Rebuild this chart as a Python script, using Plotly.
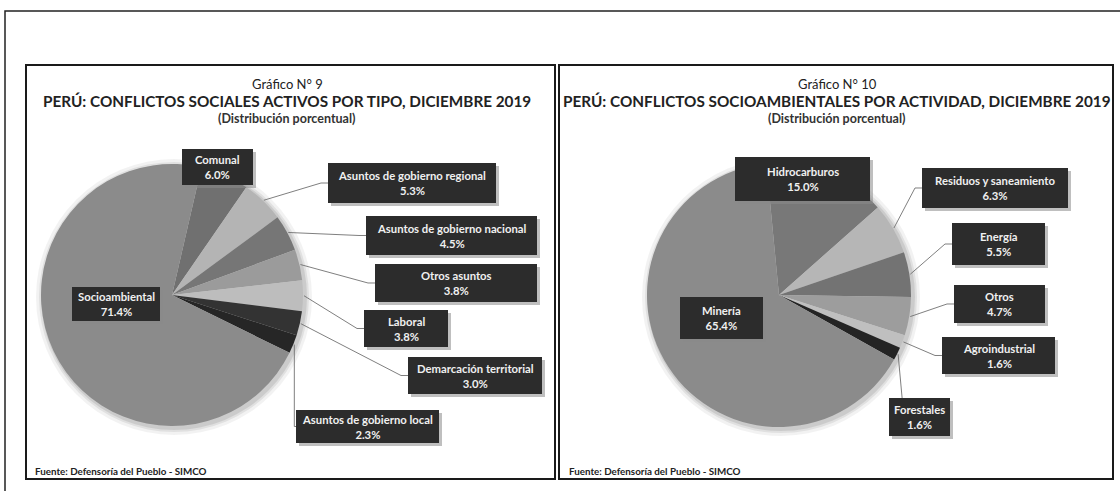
import math
import plotly.graph_objects as go

W, H = 1120, 491

# ---------------- data ----------------
tipo_labels = ["Comunal", "Asuntos de gobierno regional", "Asuntos de gobierno nacional",
               "Otros asuntos", "Laboral", "Demarcación territorial",
               "Asuntos de gobierno local", "Socioambiental"]
tipo_values = [6.0, 5.3, 4.5, 3.8, 3.8, 3.0, 2.3, 71.4]

act_labels = ["Hidrocarburos", "Residuos y saneamiento", "Energía", "Otros",
              "Agroindustrial", "Forestales", "Minería"]
act_values = [15.0, 6.3, 5.5, 4.7, 1.6, 1.6, 65.4]

# ---------------- styling ----------------
tipo_colors = ["#707070", "#b4b4b4", "#767676", "#9b9b9b", "#bdbdbd", "#333333", "#262626", "#8b8b8b"]
act_colors = ["#787878", "#b6b6b6", "#737373", "#9d9d9d", "#bfbfbf", "#242424", "#8b8b8b"]

FONT = "Lato, 'Open Sans', sans-serif"

# pie geometry (pixels): centre x, centre y, radius, start rotation
PIE1 = dict(cx=172, cy=295, r=131, rot=13)
PIE2 = dict(cx=779, cy=295, r=132, rot=-5.5)

# label boxes (x0, x1, y0, y1) in px and leader style
tipo_boxes = {
    "Comunal": ((182, 253, 149, 185), None),
    "Asuntos de gobierno regional": ((328, 496, 163, 203), "elbow"),
    "Asuntos de gobierno nacional": ((366, 537, 216, 255), "elbow"),
    "Otros asuntos": ((375, 537, 264, 302), "elbow"),
    "Laboral": ((364, 448, 310, 347), "elbow"),
    "Demarcación territorial": ((408, 542, 357, 394), "elbow"),
    "Asuntos de gobierno local": ((296, 439, 410, 443), "vert"),
    "Socioambiental": ((72, 160, 287, 321), None),
}
act_boxes = {
    "Hidrocarburos": ((735, 870, 157, 201), None),
    "Residuos y saneamiento": ((922, 1068, 168, 208), "elbow"),
    "Energía": ((952, 1045, 223, 265), "elbow"),
    "Otros": ((954, 1045, 285, 323), "elbow"),
    "Agroindustrial": ((942, 1055, 337, 374), "elbow"),
    "Forestales": ((889, 950, 398, 436), "down"),
    "Minería": ((680, 763, 297, 339), None),
}


def px(x):
    return x / W


def py(y):
    return 1 - y / H


fig = go.Figure()
shapes = []
annotations = []


def add_pie(labels, values, colors, geo, boxes):
    cx, cy, r, rot = geo["cx"], geo["cy"], geo["r"], geo["rot"]
    fig.add_trace(go.Pie(
        labels=labels, values=values, sort=False, direction="clockwise",
        rotation=rot, textinfo="none", hoverinfo="label+percent",
        marker=dict(colors=colors, line=dict(width=0)),
        domain=dict(x=[px(cx - r), px(cx + r)], y=[py(cy + r), py(cy - r)]),
        showlegend=False,
    ))
    # soft shadow halo
    for d, op in [(7, 0.05), (4, 0.07), (2, 0.09)]:
        shapes.append(dict(type="circle", xref="paper", yref="paper",
                           x0=px(cx - r - d + 2), x1=px(cx + r + d + 2),
                           y0=py(cy + r + d + 2), y1=py(cy - r - d + 2),
                           fillcolor="#000000", opacity=op, line=dict(width=0),
                           layer="below"))
    total = sum(values)
    cum = 0.0
    for lab, v in zip(labels, values):
        mid = math.radians(rot + 360.0 * (cum + v / 2) / total)
        cum += v
        (x0, x1, y0, y1), mode = boxes[lab]
        ym = (y0 + y1) / 2
        if mode is not None:
            sx = cx + (r + 1) * math.sin(mid)
            sy = cy - (r + 1) * math.cos(mid)
            if mode == "elbow":
                pts = [(sx, sy), (x0 - 7, ym), (x0, ym)]
            elif mode == "vert":
                pts = [(sx, sy), (sx, ym), (x0, ym)]
            else:
                pts = [(sx, sy), (sx + 4, y0)]
            path = "M " + " L ".join(f"{px(a):.5f},{py(b):.5f}" for a, b in pts)
            shapes.append(dict(type="path", xref="paper", yref="paper", path=path,
                               line=dict(color="#707070", width=0.9), layer="above"))
        # box shadow + box
        shapes.append(dict(type="rect", xref="paper", yref="paper",
                           x0=px(x0 + 3), x1=px(x1 + 3), y0=py(y1 + 3), y1=py(y0 + 3),
                           fillcolor="#8a8a8a", opacity=0.55, line=dict(width=0), layer="above"))
        shapes.append(dict(type="rect", xref="paper", yref="paper",
                           x0=px(x0), x1=px(x1), y0=py(y1), y1=py(y0),
                           fillcolor="#2c2c2c", line=dict(width=0), layer="above"))
        annotations.append(dict(
            xref="paper", yref="paper", x=px((x0 + x1) / 2), y=py(ym),
            xanchor="center", yanchor="middle", showarrow=False,
            text=f"<b>{lab}<br>{v:.1f}%</b>", align="center",
            font=dict(family=FONT, size=11.3, color="#f0f0f0"),
        ))


add_pie(tipo_labels, tipo_values, tipo_colors, PIE1, tipo_boxes)
add_pie(act_labels, act_values, act_colors, PIE2, act_boxes)

# frames
shapes.append(dict(type="rect", xref="paper", yref="paper", x0=px(5), x1=px(1130),
                   y0=py(500), y1=py(11), line=dict(color="#222222", width=1.5), layer="above"))
for (a, b) in [(26, 555), (559, 1113)]:
    shapes.append(dict(type="rect", xref="paper", yref="paper", x0=px(a), x1=px(b),
                       y0=py(479), y1=py(65), line=dict(color="#1a1a1a", width=2), layer="above"))

# titles
titles = [
    (287, "Gráfico N° 9", "PERÚ: CONFLICTOS SOCIALES ACTIVOS POR TIPO, DICIEMBRE 2019"),
    (837, "Gráfico N° 10", "PERÚ: CONFLICTOS SOCIOAMBIENTALES POR ACTIVIDAD, DICIEMBRE 2019"),
]
for cxp, g, t in titles:
    annotations.append(dict(xref="paper", yref="paper", x=px(cxp), y=py(84), text=g,
                            showarrow=False, xanchor="center", yanchor="middle",
                            font=dict(family=FONT, size=13, color="#222222")))
    annotations.append(dict(xref="paper", yref="paper", x=px(cxp), y=py(101), text=f"<b>{t}</b>",
                            showarrow=False, xanchor="center", yanchor="middle",
                            font=dict(family=FONT, size=15.3, color="#222222")))
    annotations.append(dict(xref="paper", yref="paper", x=px(cxp), y=py(119),
                            text="<b>(Distribución porcentual)</b>",
                            showarrow=False, xanchor="center", yanchor="middle",
                            font=dict(family=FONT, size=12.5, color="#333333")))

for x0 in (33, 567):
    annotations.append(dict(xref="paper", yref="paper", x=px(x0), y=py(471),
                            text="<b>Fuente: Defensoría del Pueblo - SIMCO</b>",
                            showarrow=False, xanchor="left", yanchor="middle",
                            font=dict(family=FONT, size=9.8, color="#222222")))

fig.update_layout(
    width=W, height=H, autosize=False,
    margin=dict(l=0, r=0, t=0, b=0),
    paper_bgcolor="white", plot_bgcolor="white",
    shapes=shapes, annotations=annotations,
)

fig.write_html("out.html", config={"displayModeBar": False},
               post_script="document.body.style.margin='0';document.body.style.overflow='hidden';")
